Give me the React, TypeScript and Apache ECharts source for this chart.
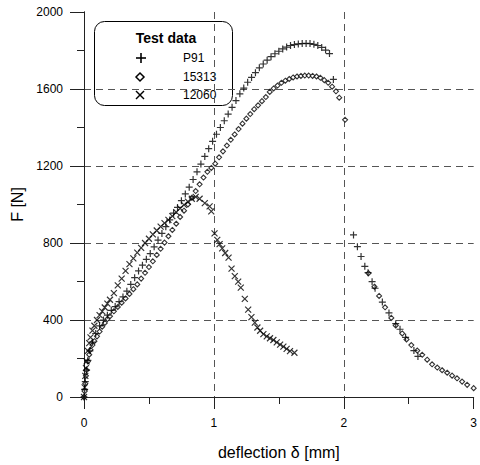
import React, { useEffect, useRef } from "react";
import * as echarts from "echarts";

// P91 (+)
const p91X = [0, 0.005, 0.01, 0.02, 0.03, 0.045, 0.065, 0.09, 0.12, 0.15, 0.18, 0.21, 0.24, 0.27, 0.3, 0.33, 0.36, 0.39, 0.42, 0.45, 0.48, 0.51, 0.54, 0.57, 0.6, 0.63, 0.66, 0.69, 0.72, 0.75, 0.78, 0.81, 0.84, 0.87, 0.9, 0.93, 0.96, 0.99, 1.02, 1.05, 1.08, 1.11, 1.14, 1.17, 1.2, 1.23, 1.26, 1.29, 1.32, 1.35, 1.38, 1.41, 1.44, 1.47, 1.5, 1.53, 1.56, 1.59, 1.62, 1.65, 1.68, 1.71, 1.74, 1.77, 1.8, 1.83, 1.86, 1.89, 1.92, 2.075, 2.105, 2.133, 2.162, 2.187, 2.218, 2.241, 2.297, 2.348, 2.4, 2.433, 2.476, 2.54, 2.571];
const p91F = [0, 40, 80, 140, 190, 240, 285, 330, 370, 400, 425, 450, 470, 495, 520, 550, 585, 620, 655, 685, 715, 745, 780, 815, 850, 885, 920, 955, 985, 1020, 1055, 1090, 1130, 1170, 1210, 1250, 1290, 1328, 1365, 1400, 1435, 1470, 1505, 1540, 1575, 1605, 1635, 1660, 1685, 1710, 1730, 1750, 1768, 1783, 1796, 1808, 1818, 1826, 1831, 1834, 1836, 1837, 1836, 1832, 1826, 1816, 1802, 1784, 1650, 842, 781, 730, 679, 646, 599, 565, 493, 437, 381, 352, 310, 241, 211];

// 15313 (diamond)
const s15313X = [0, 0.005, 0.01, 0.015, 0.02, 0.03, 0.04, 0.05, 0.065, 0.08, 0.1, 0.12, 0.14, 0.16, 0.18, 0.2, 0.23, 0.26, 0.29, 0.32, 0.35, 0.38, 0.41, 0.44, 0.47, 0.5, 0.53, 0.56, 0.59, 0.62, 0.65, 0.68, 0.71, 0.74, 0.77, 0.8, 0.83, 0.86, 0.89, 0.92, 0.95, 0.98, 1.01, 1.04, 1.07, 1.1, 1.13, 1.16, 1.19, 1.22, 1.25, 1.28, 1.31, 1.34, 1.37, 1.4, 1.43, 1.46, 1.49, 1.52, 1.55, 1.58, 1.61, 1.64, 1.67, 1.7, 1.73, 1.76, 1.79, 1.82, 1.85, 1.88, 1.91, 1.94, 1.965, 2.01, 2.19, 2.236, 2.272, 2.318, 2.366, 2.4, 2.45, 2.483, 2.52, 2.566, 2.604, 2.642, 2.68, 2.72, 2.757, 2.796, 2.834, 2.872, 2.911, 2.95, 3.0];
const s15313F = [0, 30, 70, 110, 140, 185, 220, 245, 270, 290, 315, 340, 365, 385, 405, 420, 445, 468, 490, 512, 535, 560, 585, 615, 645, 675, 705, 738, 770, 802, 835, 868, 900, 935, 968, 1000, 1035, 1070, 1105, 1140, 1170, 1190, 1212, 1245, 1276, 1306, 1336, 1364, 1392, 1420, 1446, 1470, 1495, 1515, 1537, 1558, 1585, 1603, 1618, 1632, 1643, 1652, 1660, 1665, 1668, 1670, 1670, 1668, 1665, 1658, 1646, 1632, 1612, 1588, 1555, 1440, 643, 573, 525, 466, 411, 372, 330, 299, 270, 241, 219, 194, 170, 153, 139, 126, 111, 97, 80, 63, 46];

// 12060 (x)
const s12060X = [0, 0.005, 0.01, 0.015, 0.02, 0.03, 0.04, 0.05, 0.065, 0.08, 0.1, 0.12, 0.14, 0.16, 0.18, 0.2, 0.23, 0.26, 0.29, 0.32, 0.35, 0.38, 0.41, 0.44, 0.47, 0.5, 0.53, 0.56, 0.59, 0.62, 0.65, 0.68, 0.71, 0.74, 0.77, 0.8, 0.83, 0.86, 0.89, 0.93, 0.967, 0.98, 1.005, 1.026, 1.044, 1.064, 1.087, 1.113, 1.136, 1.161, 1.187, 1.207, 1.238, 1.264, 1.289, 1.315, 1.335, 1.356, 1.381, 1.407, 1.432, 1.458, 1.484, 1.51, 1.535, 1.56, 1.586, 1.62];
const s12060F = [0, 50, 110, 150, 185, 240, 280, 310, 345, 370, 400, 425, 445, 465, 485, 505, 540, 580, 615, 655, 690, 720, 750, 775, 800, 822, 845, 865, 885, 903, 920, 940, 960, 980, 998, 1015, 1030, 1040, 1030, 1007, 990, 964, 850, 816, 794, 772, 748, 724, 667, 628, 599, 568, 510, 454, 415, 386, 361, 344, 327, 315, 305, 296, 284, 272, 262, 250, 238, 230];

const xTicks = [0, 1, 2, 3];
const yTicks = [0, 400, 800, 1200, 1600, 2000];
const seriesNames = ["P91", "15313", "12060"];
const legendTitle = "Test data";
const xTitle = "deflection δ [mm]";
const yTitle = "F [N]";

const FONT = "'Liberation Sans', Arial, Helvetica, sans-serif";
const pairs = (xs: number[], ys: number[]) => xs.map((x, i) => [x, ys[i]]);

export default function App() {
  const ref = useRef<HTMLDivElement>(null);
  useEffect(() => {
    if (!ref.current) return;
    const chart = echarts.init(ref.current, null, { renderer: "svg" });
    const axisColor = "#222";
    const gridDash = { type: [7, 5] as any, color: "#555", width: 1 };
    const markerStyle = { color: "none", borderColor: "#000", borderWidth: 1.2 };
    const plain = (v: number) => String(v);
    chart.setOption({
      animation: false,
      backgroundColor: "#fff",
      grid: { left: 84, top: 12, right: 5, bottom: 61 },
      xAxis: [
        {
          type: "value",
          min: xTicks[0],
          max: xTicks[xTicks.length - 1],
          interval: 1,
          position: "bottom",
          axisLine: { show: true, lineStyle: { color: axisColor } },
          axisTick: { show: true, length: 12, lineStyle: { color: axisColor } },
          minorTick: { show: true, splitNumber: 2, length: 7, lineStyle: { color: axisColor } },
          axisLabel: { margin: 20, fontSize: 12, color: "#000", fontFamily: FONT, formatter: plain },
          splitLine: { show: true, showMinLine: false, showMaxLine: false, lineStyle: gridDash },
          name: xTitle,
          nameLocation: "middle",
          nameGap: 47,
          nameTextStyle: { fontSize: 16, color: "#000", fontFamily: FONT },
        },
        {
          type: "value",
          min: xTicks[0],
          max: xTicks[xTicks.length - 1],
          interval: 1,
          position: "top",
          axisLine: { show: true, lineStyle: { color: axisColor } },
          axisTick: { show: true, inside: true, length: 12, lineStyle: { color: axisColor } },
          axisLabel: { show: false },
          splitLine: { show: false },
        },
      ],
      yAxis: [
        {
          type: "value",
          min: yTicks[0],
          max: yTicks[yTicks.length - 1],
          interval: 400,
          position: "left",
          axisLine: { show: true, lineStyle: { color: axisColor } },
          axisTick: { show: true, length: 14, lineStyle: { color: axisColor } },
          minorTick: { show: true, splitNumber: 2, length: 7, lineStyle: { color: axisColor } },
          axisLabel: { margin: 21, fontSize: 12, color: "#000", fontFamily: FONT, formatter: plain },
          splitLine: { show: true, showMinLine: false, showMaxLine: false, lineStyle: gridDash },
          name: yTitle,
          nameLocation: "middle",
          nameGap: 50,
          nameTextStyle: { fontSize: 16, color: "#000", fontFamily: FONT },
        },
        {
          type: "value",
          min: yTicks[0],
          max: yTicks[yTicks.length - 1],
          interval: 400,
          position: "right",
          axisLine: { show: true, lineStyle: { color: axisColor } },
          axisTick: { show: true, inside: true, length: 12, lineStyle: { color: axisColor } },
          axisLabel: { show: false },
          splitLine: { show: false },
        },
      ],
      series: [
        {
          name: seriesNames[1],
          type: "scatter",
          clip: false,
          data: pairs(s15313X, s15313F),
          symbol: "diamond",
          symbolSize: 5,
          itemStyle: { color: "#fff", borderColor: "#000", borderWidth: 1.1 },
        },
        {
          name: seriesNames[2],
          type: "scatter",
          clip: false,
          data: pairs(s12060X, s12060F),
          symbol: "path://M0,0L10,10M10,0L0,10",
          symbolSize: 6,
          itemStyle: markerStyle,
        },
        {
          name: seriesNames[0],
          type: "scatter",
          clip: false,
          data: pairs(p91X, p91F),
          symbol: "path://M5,0L5,10M0,5L10,5",
          symbolSize: 7,
          itemStyle: markerStyle,
        },
      ],
      graphic: [
        {
          type: "group",
          z: 100,
          children: [
            {
              type: "rect",
              shape: { x: 94.5, y: 21.5, width: 138, height: 84, r: 10 },
              style: { fill: "#fff", stroke: "#000", lineWidth: 1 },
            },
            {
              type: "text",
              x: 166,
              y: 38,
              style: { text: legendTitle, fontSize: 14, fontWeight: "bold", fontFamily: FONT, fill: "#000", align: "center", verticalAlign: "middle" },
            },
            { type: "line", shape: { x1: 136, y1: 58, x2: 146, y2: 58 }, style: { stroke: "#000", lineWidth: 1.6 } },
            { type: "line", shape: { x1: 141, y1: 53, x2: 141, y2: 63 }, style: { stroke: "#000", lineWidth: 1.6 } },
            {
              type: "polygon",
              shape: { points: [[140, 73], [144, 77], [140, 81], [136, 77]] },
              style: { fill: "#fff", stroke: "#000", lineWidth: 1.5 },
            },
            { type: "line", shape: { x1: 136, y1: 91, x2: 144, y2: 99 }, style: { stroke: "#000", lineWidth: 1.5 } },
            { type: "line", shape: { x1: 144, y1: 91, x2: 136, y2: 99 }, style: { stroke: "#000", lineWidth: 1.5 } },
            {
              type: "text",
              x: 183,
              y: 58,
              style: { text: seriesNames[0], fontSize: 12, fontFamily: FONT, fill: "#000", align: "left", verticalAlign: "middle" },
            },
            {
              type: "text",
              x: 183,
              y: 77,
              style: { text: seriesNames[1], fontSize: 12, fontFamily: FONT, fill: "#000", align: "left", verticalAlign: "middle" },
            },
            {
              type: "text",
              x: 183,
              y: 95,
              style: { text: seriesNames[2], fontSize: 12, fontFamily: FONT, fill: "#000", align: "left", verticalAlign: "middle" },
            },
          ],
        },
      ],
    });
    return () => chart.dispose();
  }, []);
  return <div ref={ref} style={{ width: 480, height: 465, position: "absolute", left: 0, top: 0 }} />;
}
